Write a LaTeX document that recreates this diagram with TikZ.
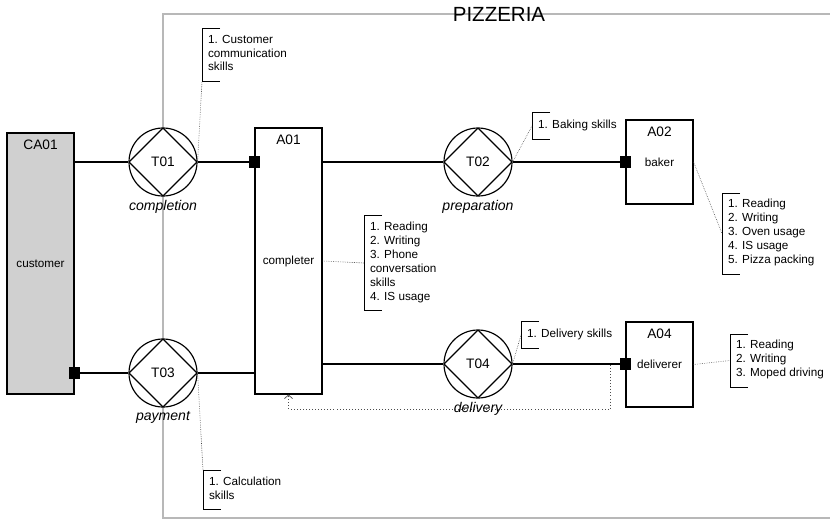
\documentclass[tikz,border=0pt]{standalone}
\usepackage{fontspec}
\setmainfont{Liberation Sans}
\usepackage{tikz}
\usetikzlibrary{arrows.meta}
\definecolor{framegray}{RGB}{184,184,184}
\definecolor{rolegray}{RGB}{208,208,208}
\newcommand{\bigsize}{\fontsize{11.7}{14}\selectfont}
\newcommand{\smallsize}{\fontsize{10}{11.9}\selectfont}

\begin{document}
\begin{tikzpicture}[
    x=0.03cm, y=-0.03cm,
    actor/.style={
        rectangle, draw, line width=1pt, fill=white, minimum width=2.01cm,
        font=\smallsize, inner sep=0pt,
        label={[anchor=north, font=\bigsize, inner sep=6.5pt]north:#1}
    },
    port/.style={rectangle, fill=black, minimum size=0.34cm, inner sep=0pt},
    task/.style={
        circle, draw, line width=1pt, fill=white, minimum size=2.04cm,
        inner sep=0pt, font=\bigsize,
        path picture={\draw[line width=1pt] (path picture bounding box.north) -- (path picture bounding box.east) -- (path picture bounding box.south) -- (path picture bounding box.west) -- cycle;},
        label={[font=\fontsize{12}{14}\selectfont\itshape, inner sep=3pt]below:#1}
    },
    skill/.style={
        align=left, anchor=west, font=\smallsize, inner xsep=5pt, inner ysep=5.1pt,
        execute at begin node=\strut, execute at end node=\strut
    },
    link/.style={line width=1pt},
    note/.style={densely dotted, line width=0.5pt, black!75},
    flow/.style={dotted, line width=0.6pt, black!70, -{Straight Barb[length=3pt, width=7pt]}}
]
\clip (0,0) rectangle (830,521);

% Pizzeria frame
\draw[framegray, line width=2.4pt] (163,14) rectangle (860,518);
\node[font=\fontsize{17.5}{20}\selectfont] (title) at (499,14) {PIZZERIA};

% Actors
\node[actor=CA01, fill=rolegray, minimum height=7.83cm] (CA01) at (40.5,263.5) {customer};
\node[actor=A01, minimum height=7.98cm] (A01) at (288.5,261) {completer};
\node[actor=A02, minimum height=2.52cm] (A02) at (659.5,162) {baker};
\node[actor=A04, minimum height=2.55cm] (A04) at (659.5,364.5) {deliverer};

% Transactions
\node[task=completion] (T01) at (163,162) {T01};
\node[task=preparation] (T02) at (478,162) {T02};
\node[task=payment] (T03) at (163,373) {T03};
\node[task=delivery] (T04) at (478,364) {T04};

% Ports
\node[port] (pA01) at (A01.west |- T01) {};
\node[port] (pA02) at (A02.west |- T02) {};
\node[port] (pCA01) at (CA01.east |- T03) {};
\node[port] (pA04) at (A04.west |- T04) {};

% Links
\draw[link] (CA01.east |- T01) -- (T01);
\draw[link] (T01) -- (pA01);
\draw[link] (A01.east |- T02) -- (T02);
\draw[link] (T02) -- (pA02);
\draw[link] (pCA01) -- (T03);
\draw[link] (T03) -- (A01.west |- T03);
\draw[link] (A01.east |- T04) -- (T04);
\draw[link] (T04) -- (pA04);

% Skills
\node[skill] (sT01) at (202,55) {1. Customer\\communication\\skills};
\node[skill] (sT02) at (532,126) {1. Baking skills};
\node[skill] (sT03) at (203,490) {1. Calculation\\skills};
\node[skill] (sT04) at (521,335) {1. Delivery skills};
\node[skill] (sA01) at (364,263) {1. Reading\\2. Writing\\3. Phone\\conversation\\skills\\4. IS usage};
\node[skill] (sA02) at (722,233.5) {1. Reading\\2. Writing\\3. Oven usage\\4. IS usage\\5. Pizza packing};
\node[skill] (sA04) at (730,360.5) {1. Reading\\2. Writing\\3. Moped driving};

\foreach \s in {sT01,sT02,sT03,sT04,sA01,sA02,sA04}
    \draw[line width=0.7pt] ([xshift=0.54cm]\s.north west) -- (\s.north west) -- (\s.south west) -- ([xshift=0.54cm]\s.south west);

% Skill notes
\draw[note] (T01.east) -- (sT01.south west);
\draw[note] (T02.east) -- (sT02.west);
\draw[note] (T03.east) -- (sT03.north west);
\draw[note] (T04.east) -- (sT04.west);
\draw[note] (A01.east) -- (sA01.west);
\draw[note] (A02.east) -- (sA02.west);
\draw[note] (A04.east) -- (sA04.west);

% Delivery back to completer
\coordinate (dstart) at (610,365);
\draw[flow] (dstart) -- ++(0,44) -| (A01.south);

\end{tikzpicture}
\end{document}
